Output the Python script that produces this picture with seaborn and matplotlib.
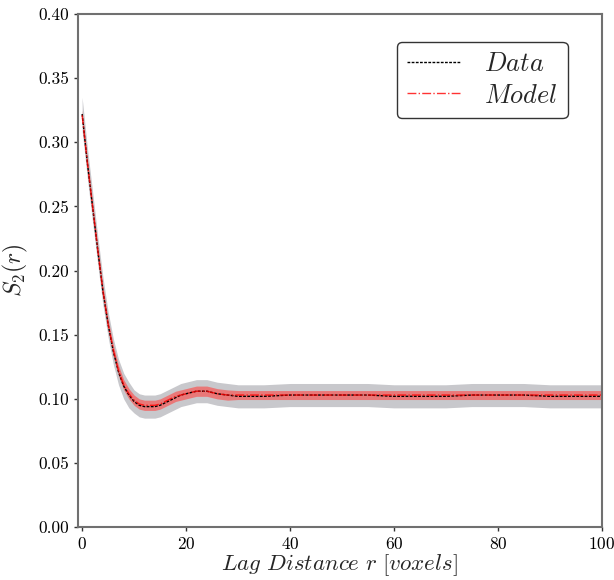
import numpy as np
import pandas as pd
import matplotlib
matplotlib.use("Agg")
import matplotlib.pyplot as plt
import seaborn as sns

# values
lag_r = [0, 1, 2, 3, 4, 5, 6, 7, 8, 9, 10, 11, 12, 13, 14, 15, 16, 17, 18, 19,
         20, 21, 22, 23, 24, 25, 26, 28, 30, 35, 40, 45, 50, 55, 60, 65, 70,
         75, 80, 85, 90, 95, 100]
s2_data = [0.322, 0.284, 0.250, 0.216, 0.184, 0.158, 0.137, 0.121, 0.110, 0.103,
           0.098, 0.095, 0.094, 0.094, 0.094, 0.095, 0.097, 0.099, 0.101, 0.103,
           0.104, 0.105, 0.106, 0.106, 0.106, 0.105, 0.104, 0.103, 0.102, 0.102,
           0.103, 0.103, 0.103, 0.103, 0.102, 0.102, 0.102, 0.103, 0.103, 0.103,
           0.102, 0.102, 0.102]
s2_model = [0.321, 0.284, 0.250, 0.216, 0.184, 0.158, 0.138, 0.122, 0.111, 0.104,
            0.099, 0.096, 0.095, 0.095, 0.095, 0.096, 0.098, 0.100, 0.102, 0.103,
            0.104, 0.105, 0.106, 0.106, 0.106, 0.105, 0.104, 0.103, 0.103, 0.103,
            0.103, 0.103, 0.103, 0.103, 0.103, 0.103, 0.103, 0.103, 0.103, 0.103,
            0.103, 0.103, 0.103]
# half widths of the shaded bands
data_spread = [0.013, 0.012, 0.012, 0.011, 0.011, 0.010, 0.010, 0.010, 0.010, 0.010,
               0.009, 0.009, 0.009, 0.009, 0.009, 0.009, 0.009, 0.009, 0.009, 0.009,
               0.009, 0.009, 0.009, 0.009, 0.009, 0.009, 0.009, 0.009, 0.009, 0.009,
               0.009, 0.009, 0.009, 0.009, 0.009, 0.009, 0.009, 0.009, 0.009, 0.009,
               0.009, 0.009, 0.009]
model_spread = [0.004, 0.004, 0.004, 0.004, 0.004, 0.004, 0.004, 0.004, 0.004, 0.004,
                0.004, 0.004, 0.004, 0.004, 0.004, 0.004, 0.004, 0.004, 0.004, 0.004,
                0.004, 0.004, 0.004, 0.004, 0.004, 0.004, 0.004, 0.004, 0.0035, 0.0035,
                0.0035, 0.0035, 0.0035, 0.0035, 0.0035, 0.0035, 0.0035, 0.0035, 0.0035, 0.0035,
                0.0035, 0.0035, 0.0035]

df = pd.DataFrame({"r": lag_r, "data": s2_data, "model": s2_model,
                   "data_sd": data_spread, "model_sd": model_spread})

sns.set_style("ticks")
plt.rcParams["font.family"] = "serif"
plt.rcParams["font.serif"] = ["cmr10", "DejaVu Serif"]
plt.rcParams["mathtext.fontset"] = "cm"
plt.rcParams["axes.unicode_minus"] = False
plt.rcParams["axes.formatter.use_mathtext"] = True

fig = plt.figure(figsize=(6.14, 5.8), dpi=100)
ax = fig.add_axes([0.127, 0.091, 0.853, 0.885])

# shaded bands
ax.fill_between(df["r"], df["data"] - df["data_sd"], df["data"] + df["data_sd"],
                color="#c8c8cc", linewidth=0)
ax.fill_between(df["r"], df["model"] - df["model_sd"], df["model"] + df["model_sd"],
                color="#f06a6a", alpha=0.85, linewidth=0)

sns.lineplot(data=df, x="r", y="data", ax=ax, color="black", linestyle=(0, (2, 1)),
             linewidth=1.0, label="$Data$")
sns.lineplot(data=df, x="r", y="model", ax=ax, color="red", linestyle="-.",
             linewidth=1.0, label="$Model$", alpha=0.8)

ax.set_xlim(-0.8, 100)
ax.set_ylim(0, 0.4)
ax.set_xticks([0, 20, 40, 60, 80, 100])
ax.set_yticks(np.arange(0, 0.41, 0.05))
ax.set_yticklabels([f"{v:.2f}" for v in np.arange(0, 0.41, 0.05)])
ax.tick_params(labelsize=12.5, length=3, width=1, colors="#333333", labelcolor="black")
for s in ax.spines.values():
    s.set_color("#707070")
    s.set_linewidth(1.5)

ax.set_xlabel(r"$Lag\ Distance\ r\ [voxels]$", fontsize=16.5, labelpad=0)
ax.set_ylabel(r"$S_2(r)$", fontsize=17, labelpad=6)

leg = ax.legend(loc="upper right", bbox_to_anchor=(0.935, 0.946), borderaxespad=0,
                fontsize=19, frameon=True, fancybox=True, framealpha=1,
                handlelength=2.0, borderpad=0.4, labelspacing=0.3, handletextpad=0.9)
leg.get_frame().set_edgecolor("#333333")
leg.get_frame().set_linewidth(1.0)

fig.savefig("out.png", dpi=100)
